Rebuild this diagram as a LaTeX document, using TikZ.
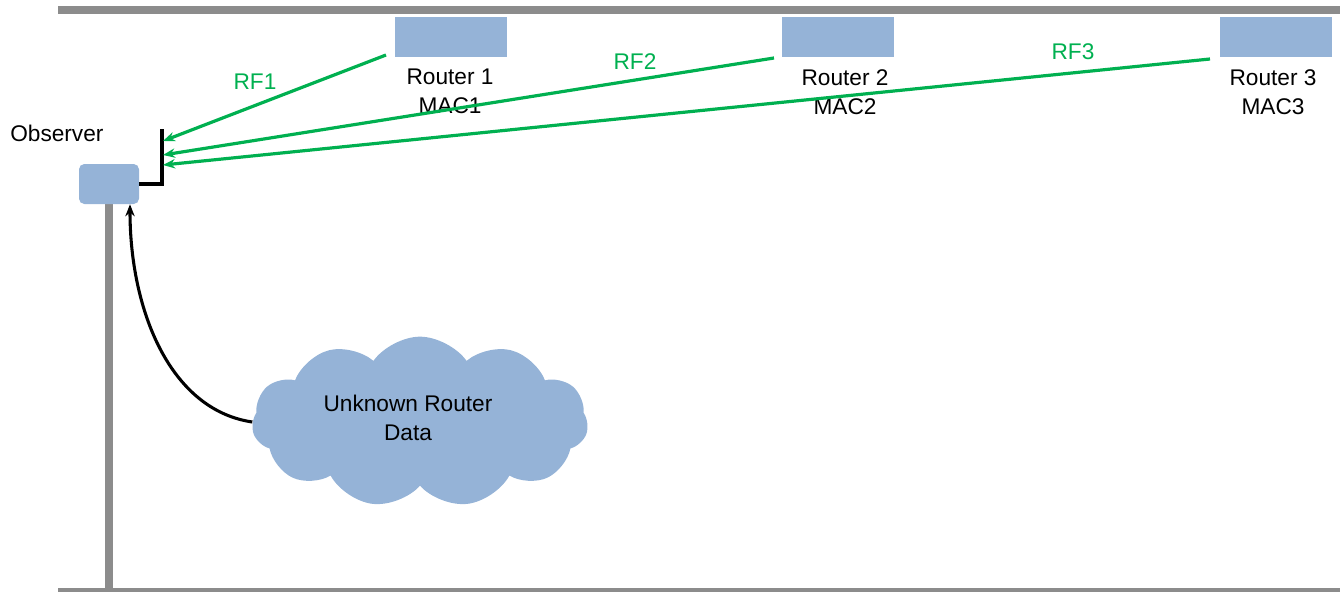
\documentclass[tikz,border=0pt]{standalone}
\usepackage{fontspec}
\setmainfont{Liberation Sans}
\usetikzlibrary{shapes.symbols,arrows.meta}
\definecolor{boxblue}{HTML}{95B3D7}
\definecolor{bargray}{HTML}{8C8C8C}
\definecolor{rfgreen}{HTML}{00B050}
\begin{document}
\begin{tikzpicture}[x=0.75pt,y=-0.75pt,
  lbl/.style={font=\fontsize{17}{21.75}\selectfont,align=center,inner sep=0pt},
  routerbox/.style={fill=boxblue,draw=none,minimum width=84pt,minimum height=30pt,inner sep=0pt,anchor=north west},
  bar/.style={draw=bargray,line cap=butt},
  rf/.style={draw=rfgreen,line width=2.4pt,-{Stealth[length=9pt,width=7pt]}},
  rflbl/.style={lbl,text=rfgreen}]
\useasboundingbox (0,0) rectangle (1340,592);
% structure bars
\draw[bar,line width=6pt] (58,10) -- (1340,10);
\draw[bar,line width=3pt] (58,590) -- (1340,590);
\draw[bar,line width=6pt] (109,200) -- (109,592);
% observer
\node[fill=boxblue,rounded corners=4pt,minimum width=45pt,minimum height=30pt,inner sep=0pt] (obs) at (109,184) {};
\node[lbl,anchor=west] (obslbl) at (10,133) {Observer};
\coordinate (ant) at (162,129);
\draw[line width=2.7pt] (obs.east) -| (ant);
\coordinate (a1) at (163,141);
\coordinate (a2) at (163,155);
\coordinate (a3) at (163,165);
% routers
\node[routerbox] (r1) at (395,17) {};
\node[routerbox] (r2) at (782,17) {};
\node[routerbox] (r3) at (1220,17) {};
\node[lbl] (r1lbl) at (450,91) {Router 1\\MAC1};
\node[lbl] (r2lbl) at (845,92) {Router 2\\MAC2};
\node[lbl] (r3lbl) at (1273,92) {Router 3\\MAC3};
\coordinate (s1) at (386,55);
\coordinate (s2) at (774,58);
\coordinate (s3) at (1210,59);
% RF links
\draw[rf] (s1) -- (a1);
\draw[rf] (s2) -- (a2);
\draw[rf] (s3) -- (a3);
\node[rflbl] (rf1) at (255,82) {RF1};
\node[rflbl] (rf2) at (635,62) {RF2};
\node[rflbl] (rf3) at (1073,52) {RF3};
% cloud
\node[cloud,cloud puffs=11,cloud puff arc=110,aspect=2,fill=boxblue,draw=none,
  minimum width=252pt,minimum height=128pt,inner sep=0pt] (cloud) at (420,422) {};
\node[lbl] (cloudlbl) at (408,418) {Unknown Router\\Data};
\draw[line width=2.3pt,-{Stealth[length=9pt,width=7pt]}] (cloud.west) .. controls (170,410) and (130,310) .. (obs.south -| 130,0);
\end{tikzpicture}
\end{document}
